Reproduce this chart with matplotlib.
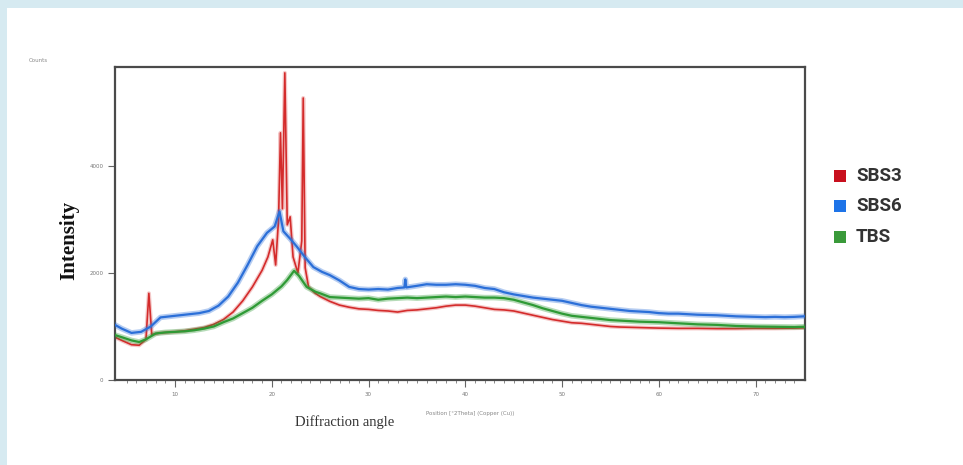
import matplotlib
matplotlib.use("Agg")
import matplotlib.pyplot as plt
from matplotlib.patches import Rectangle

# ---- data ----
sbs6_x = [3.8, 4.5, 5.5, 6.5, 7.5, 8.5, 9.5, 10.5, 11.5, 12.5, 13.5, 14.5, 15.5, 16.5, 17.5,
          18.5, 19.5, 20.3, 20.8, 21.2, 22.0, 22.6, 23.5, 24.3, 25.2, 26, 27, 28, 29, 30, 31,
          32, 33, 33.7, 33.8, 33.9, 35, 36, 37, 38, 39, 40, 41, 42, 43, 44, 45, 46, 47, 48, 49,
          50, 51, 52, 53, 54, 55, 56, 57, 58, 59, 60, 61, 62, 63, 64, 65, 66, 67, 68, 69, 70,
          71, 72, 73, 74, 75]
sbs6_y = [1030, 960, 880, 900, 1000, 1170, 1190, 1210, 1230, 1250, 1290, 1390, 1560, 1820, 2150,
          2500, 2750, 2870, 3150, 2780, 2620, 2490, 2280, 2110, 2020, 1960, 1860, 1740, 1700, 1690, 1700,
          1690, 1720, 1730, 1880, 1730, 1760, 1790, 1780, 1780, 1790, 1780, 1760, 1720, 1700, 1640, 1600,
          1570, 1540, 1520, 1500, 1480, 1440, 1400, 1370, 1350, 1330, 1310, 1290, 1280, 1270, 1250, 1240,
          1240, 1230, 1220, 1215, 1210, 1200, 1190, 1185, 1180, 1175, 1180, 1175, 1180, 1190]

tbs_x = [3.8, 4.5, 5.5, 6.3, 7, 8, 9, 10, 11, 12, 13, 14, 15, 16, 17, 18, 19, 20, 21, 21.6,
         22.3, 22.8, 23.6, 24.5, 25, 26, 27, 28, 29, 30, 31, 32, 33, 34, 35, 36, 37, 38,
         39, 40, 41, 42, 43, 44, 45, 46, 47, 48, 49, 50, 51, 52, 53, 54, 55, 56, 57, 58, 59,
         60, 62, 64, 66, 68, 70, 72, 74, 75]
tbs_y = [840, 800, 740, 710, 760, 870, 890, 900, 910, 930, 960, 1000, 1080, 1150, 1250, 1350, 1480,
         1600, 1750, 1870, 2040, 1950, 1740, 1650, 1620, 1550, 1540, 1530, 1520, 1530, 1500, 1520, 1530,
         1540, 1530, 1540, 1550, 1560, 1550, 1560, 1550, 1540, 1540, 1530, 1500, 1450, 1400, 1340,
         1290, 1240, 1200, 1180, 1160, 1140, 1120, 1110, 1100, 1090, 1085, 1080, 1060, 1040, 1030, 1010,
         1000, 995, 990, 995]

sbs3_x = [3.8, 4.5, 5.5, 6.3, 7.0, 7.3, 7.6, 8.5, 10, 11, 12, 13, 14, 15, 16, 17, 18, 19, 19.6,
          20.1, 20.4, 20.7, 20.9, 21.1, 21.35, 21.6, 21.9, 22.2, 22.7, 23.1, 23.25, 23.45, 23.8,
          24.5, 25, 26, 27, 28, 29, 30, 31, 32, 33, 34, 35, 36, 37, 38, 39, 40, 41, 42, 43, 44,
          45, 46, 47, 48, 49, 50, 51, 52, 53, 54, 55, 56, 58, 60, 62, 64, 66, 68, 70, 72, 74, 75]
sbs3_y = [800, 740, 660, 650, 760, 1620, 850, 880, 900, 920, 950, 980, 1040, 1130, 1270, 1480, 1740,
          2050, 2300, 2620, 2150, 3000, 4620, 3200, 5740, 2900, 3050, 2300, 2000, 2600, 5270, 2100,
          1740, 1620, 1560, 1470, 1400, 1360, 1330, 1320, 1300, 1290, 1270, 1300, 1310, 1330, 1350,
          1380, 1400, 1400, 1380, 1350, 1320, 1310, 1290, 1250, 1210, 1170, 1130, 1100, 1070, 1060,
          1040, 1020, 1000, 990, 980, 970, 965, 965, 960, 960, 965, 965, 970, 975]

series_names = ["SBS3", "SBS6", "TBS"]
series_colors = ["#d42b2b", "#2b6fd8", "#2e9a35"]
legend_colors = ["#c8101e", "#1e74e8", "#3a9a3a"]

x_ticks = [10, 20, 30, 40, 50, 60, 70]
y_ticks = [0, 2000, 4000]

# ---- figure ----
W, H = 963, 465
fig = plt.figure(figsize=(W / 100, H / 100), dpi=100)
fig.patch.set_facecolor("white")

# light-blue frame strips (top and left)
fig.patches.append(Rectangle((0, 1 - 8 / H), 1, 8 / H, transform=fig.transFigure,
                             facecolor="#d6eaf1", edgecolor="none", zorder=0))
fig.patches.append(Rectangle((0, 0), 7 / W, 1, transform=fig.transFigure,
                             facecolor="#d6eaf1", edgecolor="none", zorder=0))

ax = fig.add_axes([115 / W, (H - 380) / H, (805 - 115) / W, (380 - 67) / H])
# fuzzy band underneath + core line, to mimic the noisy scan traces
ax.plot(sbs6_x, sbs6_y, color=series_colors[1], lw=4.0, alpha=0.35, zorder=3)
ax.plot(sbs6_x, sbs6_y, color=series_colors[1], lw=1.6, zorder=3)
ax.plot(tbs_x, tbs_y, color=series_colors[2], lw=4.0, alpha=0.35, zorder=4)
ax.plot(tbs_x, tbs_y, color=series_colors[2], lw=1.6, zorder=4)
ax.plot(sbs3_x, sbs3_y, color=series_colors[0], lw=3.0, alpha=0.25, zorder=2)
ax.plot(sbs3_x, sbs3_y, color=series_colors[0], lw=1.2, zorder=2)

ax.set_xlim(3.8, 75.1)
ax.set_ylim(0, 5850)
ax.set_xticks(x_ticks)
ax.set_xticklabels([str(t) for t in x_ticks])
ax.set_xticks([t for t in range(5, 75)], minor=True)
ax.set_yticks(y_ticks)
ax.set_yticklabels([str(t) for t in y_ticks])
ax.tick_params(axis="both", which="major", labelsize=4, labelcolor="#777777",
               color="#666666", length=5, width=0.8, direction="out")
ax.tick_params(axis="x", which="minor", length=2, width=0.6, color="#777777")
for s in ax.spines.values():
    s.set_color("#4a4a4a")
    s.set_linewidth(1.6)

# texts
fig.text(38 / W, 1 - 60 / H, "Counts", fontsize=4, color="#888888", ha="center", va="center")
fig.text(470 / W, 1 - 413 / H, "Position [°2Theta] (Copper (Cu))", fontsize=4,
         color="#888888", ha="center", va="center")
fig.text(345 / W, 1 - 422 / H, "Diffraction angle", fontsize=10.5, family="Liberation Serif",
         color="#333333", ha="center", va="center")
fig.text(69 / W, 1 - 240 / H, "Intensity", fontsize=15, family="Liberation Serif",
         fontweight="bold", rotation=90, color="#111111", ha="center", va="center")

# legend
rows = [176, 206, 237]
for name, col, yy in zip(series_names, legend_colors, rows):
    fig.patches.append(Rectangle((834 / W, 1 - (yy + 6) / H), 12 / W, 12 / H,
                                 transform=fig.transFigure, facecolor=col, edgecolor="none"))
    fig.text(856 / W, 1 - yy / H, name, fontsize=13.5, family="Roboto", fontweight="bold",
             color="#333333", ha="left", va="center")

fig.savefig("out.png", dpi=100)
